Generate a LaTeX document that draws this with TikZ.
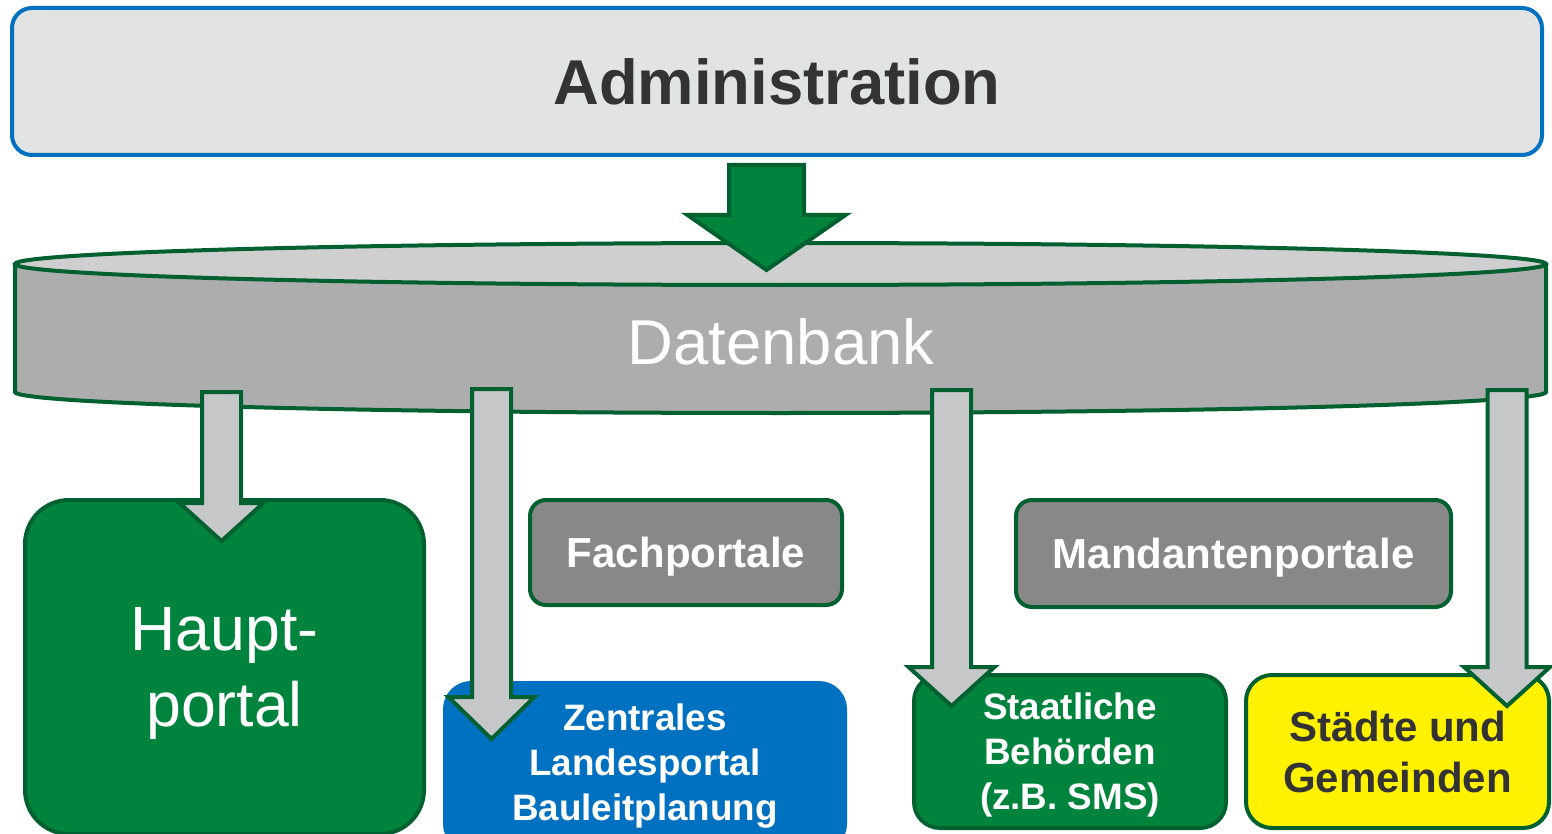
\documentclass[tikz,border=0pt]{standalone}
\usepackage{fontspec}
\setmainfont{Liberation Sans}
\usetikzlibrary{positioning,calc}

\definecolor{adminfill}{RGB}{226,228,228}
\definecolor{adminblue}{RGB}{0,112,192}
\definecolor{dkgreen}{RGB}{0,96,48}
\definecolor{portgreen}{RGB}{0,132,61}
\definecolor{dbtop}{RGB}{207,207,207}
\definecolor{dbside}{RGB}{173,173,173}
\definecolor{arrgray}{RGB}{198,199,201}
\definecolor{portgray}{RGB}{136,136,136}
\definecolor{txtdark}{RGB}{51,51,51}

% block arrow pointing down: style, centre x, top y, wing y, tip y, half shaft, half head
\newcommand{\downblock}[7]{%
  \draw[#1] (#2-#6,#3) -- (#2+#6,#3) -- (#2+#6,#4) -- (#2+#7,#4) -- (#2,#5)
    -- (#2-#7,#4) -- (#2-#6,#4) -- cycle;}

\tikzset{
  portal/.style={draw=dkgreen, line width=2pt, inner sep=0pt, align=center, text=white},
  greyarrow/.style={fill=arrgray, draw=dkgreen, line width=2pt, line join=miter},
  greenarrow/.style={fill=portgreen, draw=dkgreen, line width=2pt, line join=miter}
}

\begin{document}
\begin{tikzpicture}[x=0.5pt, y=-0.5pt]
  \useasboundingbox (0,0) rectangle (1552,834);
  \clip (0,0) rectangle (1552,834);

  % Administration
  \node[draw=adminblue, fill=adminfill, line width=2pt, rounded corners=10pt,
        minimum width=765pt, minimum height=73.5pt, inner sep=0pt,
        text=txtdark, font=\bfseries\fontsize{31.7}{38}\selectfont]
        (admin) at (777,81.5) {Administration};

  % Datenbank (cylinder)
  \fill[dbside] (15,264) -- (15,392) arc[start angle=180, end angle=0, x radius=765.5, y radius=21]
    -- (1546,264) -- cycle;
  \fill[dbtop] (780.5,264) ellipse [x radius=765.5, y radius=21];
  \draw[dkgreen, line width=2pt] (15,264) -- (15,392)
    arc[start angle=180, end angle=0, x radius=765.5, y radius=21] -- (1546,264);
  \draw[dkgreen, line width=2pt] (780.5,264) ellipse [x radius=765.5, y radius=21];
  \node[text=white, font=\fontsize{31.7}{38}\selectfont] (db) at (781,342) {Datenbank};

  % Administration -> Datenbank
  \downblock{greenarrow}{766.5}{165}{215}{270}{37.5}{79}

  % Portale
  \node[portal, fill=portgreen, rounded corners=22pt, minimum width=199.5pt, minimum height=167pt,
        text depth=0pt, font=\fontsize{31.3}{38}\selectfont] (haupt) at (224.5,667) {Haupt-\\portal};
  \node[portal, fill=portgray, rounded corners=8pt, minimum width=156pt, minimum height=52.5pt,
        text depth=0pt, font=\bfseries\fontsize{21}{25}\selectfont] (fach) at (686,552.5) {Fachportale};
  \node[portal, fill=portgray, rounded corners=8pt, minimum width=217.5pt, minimum height=53.5pt,
        text depth=0pt, font=\bfseries\fontsize{21}{25}\selectfont] (mand) at (1233.5,553.5) {Mandantenportale};
  \node[portal, draw=adminblue, fill=adminblue, rounded corners=13pt, minimum width=200pt, minimum height=83.5pt,
        font=\bfseries\fontsize{18.4}{22.5}\selectfont] (landes) at (645,766.5)
        {Zentrales\\Landesportal\\Bauleitplanung};
  \node[portal, fill=portgreen, rounded corners=13pt, minimum width=156pt, minimum height=76.5pt,
        text depth=0pt, font=\bfseries\fontsize{18.4}{22.5}\selectfont] (staat) at (1070,751.5)
        {Staatliche\\Behörden\\(z.B. SMS)};
  \node[portal, fill=yellow, text=txtdark, rounded corners=13pt, minimum width=151.5pt, minimum height=76.5pt,
        font=\bfseries\fontsize{21}{25.5}\selectfont] (staedte) at (1397.5,751.5)
        {Städte und\\Gemeinden};

  % Datenbank -> Portale
  \downblock{greyarrow}{221.5}{392}{503}{541}{19.5}{42}
  \downblock{greyarrow}{491.5}{389}{697}{739}{19.5}{43}
  \downblock{greyarrow}{951.5}{390}{667}{706}{19.5}{43}
  \downblock{greyarrow}{1507}{390}{667}{706}{19.5}{43}
\end{tikzpicture}
\end{document}
